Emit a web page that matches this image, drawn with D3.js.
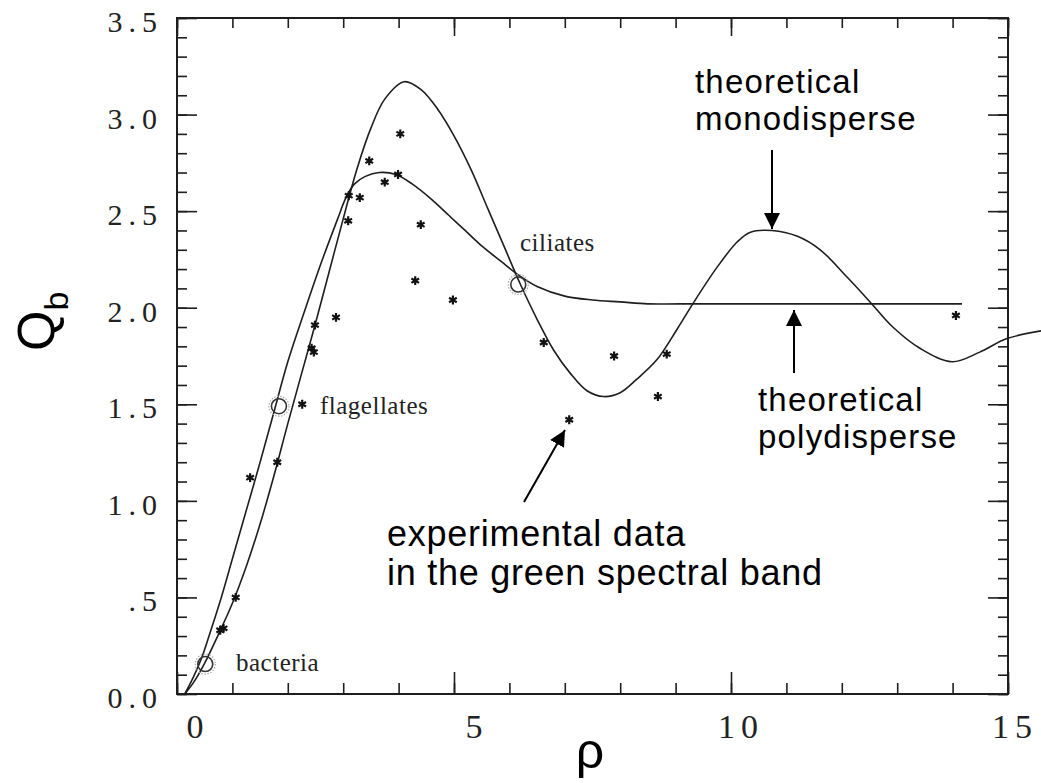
<!DOCTYPE html>
<html>
<head>
<meta charset="utf-8">
<script src="https://cdn.jsdelivr.net/npm/d3@7"></script>
<style>
  html, body { margin: 0; padding: 0; background: #fff; }
  svg { display: block; }
</style>
</head>
<body>
<svg id="chart" width="1041" height="783"></svg>
<script>
// ---------------- DATA ----------------
const monoX = [0.14, 0.30, 0.50, 0.75, 1.00, 1.25, 1.50, 1.75, 2.00, 2.25, 2.50, 2.75, 3.00, 3.25, 3.50, 3.75, 4.10, 4.40, 4.70, 5.00, 5.30, 5.60, 5.90, 6.20, 6.50, 6.80, 7.10, 7.40, 7.70, 8.00, 8.30, 8.66, 9.03, 9.31, 9.75, 10.11, 10.34, 10.74, 11.20, 11.61, 12.09, 12.51, 12.92, 13.41, 13.99, 14.49, 14.98, 15.60];
const monoY = [0.00, 0.06, 0.16, 0.31, 0.47, 0.66, 0.88, 1.13, 1.40, 1.66, 1.92, 2.19, 2.46, 2.72, 2.93, 3.08, 3.17, 3.13, 3.03, 2.89, 2.72, 2.52, 2.32, 2.12, 1.94, 1.78, 1.66, 1.57, 1.54, 1.56, 1.63, 1.73, 1.89, 2.02, 2.21, 2.34, 2.39, 2.40, 2.37, 2.30, 2.16, 2.03, 1.90, 1.79, 1.72, 1.77, 1.84, 1.88];

const polyX = [0.14, 0.30, 0.45, 0.60, 0.80, 1.00, 1.25, 1.50, 1.75, 2.00, 2.30, 2.60, 2.90, 3.05, 3.20, 3.40, 3.65, 3.95, 4.25, 4.60, 4.90, 5.20, 5.50, 5.85, 6.16, 6.50, 7.00, 7.50, 8.00, 8.50, 9.10, 14.17];
const polyY = [0.00, 0.09, 0.19, 0.32, 0.50, 0.70, 0.95, 1.20, 1.46, 1.72, 1.98, 2.23, 2.46, 2.57, 2.64, 2.68, 2.70, 2.69, 2.64, 2.56, 2.48, 2.40, 2.32, 2.24, 2.17, 2.11, 2.06, 2.04, 2.03, 2.02, 2.02, 2.02];

const expX = [0.78, 0.84, 1.06, 1.32, 1.81, 2.26, 2.43, 2.47, 2.49, 2.87, 3.09, 3.10, 3.30, 3.47, 3.75, 3.99, 4.03, 4.30, 4.40, 4.98, 6.62, 7.08, 7.89, 8.68, 8.84, 14.06];
const expY = [0.33, 0.34, 0.50, 1.12, 1.20, 1.50, 1.79, 1.77, 1.91, 1.95, 2.45, 2.58, 2.57, 2.76, 2.65, 2.69, 2.90, 2.14, 2.43, 2.04, 1.82, 1.42, 1.75, 1.54, 1.76, 1.96];

const groupNames = ["bacteria", "flagellates", "ciliates"];
const groupX = [0.51, 1.84, 6.16];
const groupY = [0.155, 1.49, 2.12];

const xMajorTicks = [0, 5, 10, 15];
const xTickLabels = ["0", "5", "10", "15"];
const yMajorTicks = [0, 0.5, 1.0, 1.5, 2.0, 2.5, 3.0, 3.5];
const yTickLabels = ["0.0", ".5", "1.0", "1.5", "2.0", "2.5", "3.0", "3.5"];

// ---------------- LAYOUT ----------------
const L = 177, R = 1008, T = 18, B = 694;
const svg = d3.select("#chart");
const x = d3.scaleLinear().domain([0, 15]).range([L, R]);
const y = d3.scaleLinear().domain([0, 3.5]).range([B, T]);
const ink = "#1e1e1e";

const xMinor = d3.range(0, 16, 1);
const yMinor = d3.range(0, 36, 1).map(d => d / 10);

function styleAxis(g) {
  g.select(".domain").remove();
  g.selectAll(".tick line").attr("stroke", ink).attr("stroke-width", 1.6);
  g.selectAll("text").remove();
}
// bottom
svg.append("g").attr("transform", `translate(0,${B})`)
  .call(d3.axisBottom(x).tickValues(xMinor).tickSize(-11).tickFormat("")).call(styleAxis);
svg.append("g").attr("transform", `translate(0,${B})`)
  .call(d3.axisBottom(x).tickValues(xMajorTicks).tickSize(-22).tickFormat("")).call(styleAxis);
// top
svg.append("g").attr("transform", `translate(0,${T})`)
  .call(d3.axisTop(x).tickValues(xMinor).tickSize(-10).tickFormat("")).call(styleAxis);
svg.append("g").attr("transform", `translate(0,${T})`)
  .call(d3.axisTop(x).tickValues(xMajorTicks).tickSize(-18).tickFormat("")).call(styleAxis);
// left
svg.append("g").attr("transform", `translate(${L},0)`)
  .call(d3.axisLeft(y).tickValues(yMinor).tickSize(-10).tickFormat("")).call(styleAxis);
svg.append("g").attr("transform", `translate(${L},0)`)
  .call(d3.axisLeft(y).tickValues(yMajorTicks).tickSize(-20).tickFormat("")).call(styleAxis);
// right
svg.append("g").attr("transform", `translate(${R},0)`)
  .call(d3.axisRight(y).tickValues(yMinor).tickSize(-10).tickFormat("")).call(styleAxis);
svg.append("g").attr("transform", `translate(${R},0)`)
  .call(d3.axisRight(y).tickValues(yMajorTicks).tickSize(-20).tickFormat("")).call(styleAxis);

// frame
svg.append("path")
  .attr("d", `M${L},${T}H${R}V${B}H${L}Z`)
  .attr("fill", "none").attr("stroke", ink).attr("stroke-width", 2);

// tick labels
const xLabelDx = [21, 23, 10, 7];
svg.append("g").selectAll("text").data(xMajorTicks).join("text")
  .attr("x", (d, i) => x(d) + xLabelDx[i])
  .attr("y", 738)
  .attr("text-anchor", "middle")
  .attr("font-family", "Liberation Serif, serif")
  .attr("font-size", 34)
  .attr("letter-spacing", 6)
  .attr("fill", "#222")
  .text((d, i) => xTickLabels[i]);

svg.append("g").selectAll("text").data(yMajorTicks).join("text")
  .attr("x", 163)
  .attr("y", d => y(d) + 14)
  .attr("text-anchor", "end")
  .attr("font-family", "Liberation Serif, serif")
  .attr("font-size", 30)
  .attr("letter-spacing", 6)
  .attr("fill", "#222")
  .text((d, i) => yTickLabels[i]);

// axis titles
svg.append("text").attr("x", 590).attr("y", 768).attr("text-anchor", "middle")
  .attr("font-family", "Liberation Sans, Arial, sans-serif").attr("font-size", 50)
  .attr("fill", "#000").text("ρ");
const qb = svg.append("text").attr("transform", "translate(54,351) rotate(-90)")
  .attr("font-family", "Liberation Sans, Arial, sans-serif").attr("font-size", 52).attr("fill", "#000");
qb.append("tspan").text("Q");
qb.append("tspan").attr("font-size", 34).attr("dy", 14).text("b");

// curves
const line = d3.line().x(d => x(d[0])).y(d => y(d[1])).curve(d3.curveCatmullRom.alpha(0.5));
svg.append("path").datum(monoX.map((v, i) => [v, monoY[i]]))
  .attr("d", line).attr("fill", "none").attr("stroke", ink).attr("stroke-width", 1.6);
svg.append("path").datum(polyX.map((v, i) => [v, polyY[i]]))
  .attr("d", line).attr("fill", "none").attr("stroke", ink).attr("stroke-width", 1.6);

// group circles
groupX.forEach((gx, i) => {
  svg.append("circle").attr("cx", x(gx)).attr("cy", y(groupY[i])).attr("r", 10)
    .attr("fill", "none").attr("stroke", "#aaa").attr("stroke-width", 1.2).attr("stroke-dasharray", "1.5,1.5");
  svg.append("circle").attr("cx", x(gx)).attr("cy", y(groupY[i])).attr("r", 7.5)
    .attr("fill", "none").attr("stroke", "#333").attr("stroke-width", 1.6);
});

// experimental stars
const starSym = d3.symbol().type(d3.symbolAsterisk || d3.symbolCross).size(55);
svg.append("g").selectAll("path").data(expX).join("path")
  .attr("transform", (d, i) => `translate(${x(d)},${y(expY[i])})`)
  .attr("d", starSym())
  .attr("fill", "none").attr("stroke", "#111").attr("stroke-width", 2.2);

// group labels
const groupLabelPos = [[236, 671], [320, 414], [520, 251]];
svg.append("g").selectAll("text").data(groupNames).join("text")
  .attr("x", (d, i) => groupLabelPos[i][0]).attr("y", (d, i) => groupLabelPos[i][1])
  .attr("font-family", "Liberation Serif, serif").attr("font-size", 25)
  .attr("letter-spacing", 0.5).attr("fill", "#222").text(d => d);

// annotations
svg.append("defs").append("marker").attr("id", "ah")
  .attr("viewBox", "0 0 10 10").attr("refX", 10).attr("refY", 5)
  .attr("markerWidth", 16).attr("markerHeight", 16).attr("markerUnits", "userSpaceOnUse")
  .attr("orient", "auto")
  .append("path").attr("d", "M0,0 L10,5 L0,10 Z").attr("fill", "#000");

function annot(lines, tx, ty, lh, fs, ls, a) {
  const t = svg.append("text").attr("font-family", "Liberation Sans, Arial, sans-serif")
    .attr("font-size", fs).attr("letter-spacing", ls).attr("fill", "#000");
  lines.forEach((s, i) => t.append("tspan").attr("x", tx).attr("y", ty + i * lh).text(s));
  svg.append("line").attr("x1", a[0]).attr("y1", a[1]).attr("x2", a[2]).attr("y2", a[3])
    .attr("stroke", "#000").attr("stroke-width", 2).attr("marker-end", "url(#ah)");
}
annot(["theoretical", "monodisperse"], 695, 93, 37, 33, 1.2, [772, 150, 772, 229]);
annot(["theoretical", "polydisperse"], 758, 411, 37, 33, 1.2, [794, 373, 794, 310]);
annot(["experimental data", "in the green spectral band"], 387, 546, 39, 36, 0.75, [524, 502, 565, 430]);
</script>
</body>
</html>
